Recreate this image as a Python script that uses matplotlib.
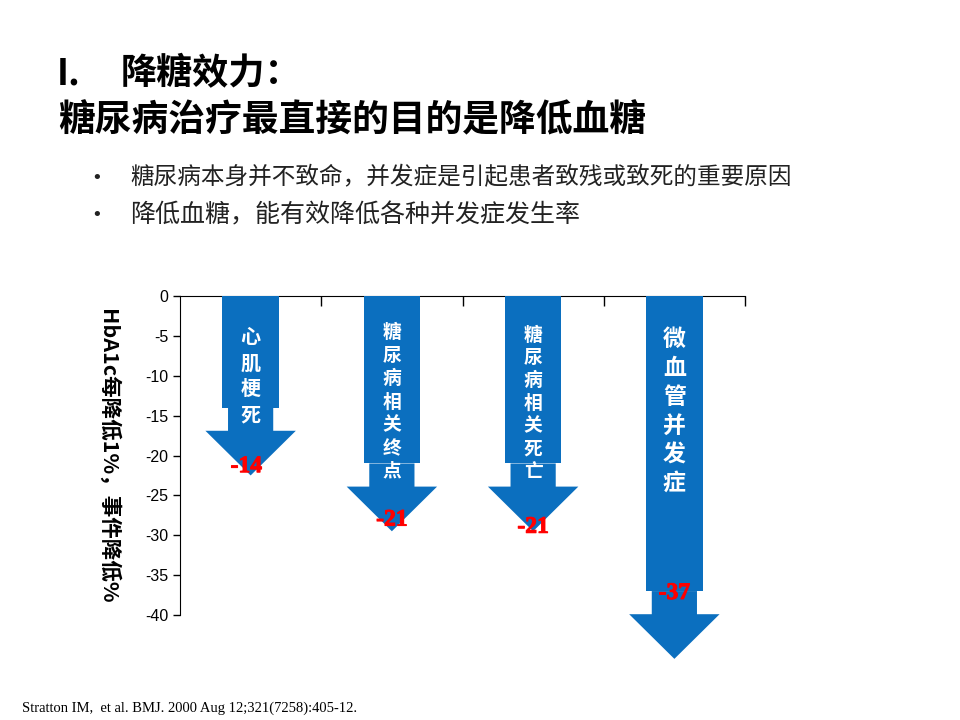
import numpy as np
import matplotlib
matplotlib.use("Agg")
import matplotlib.pyplot as plt
import matplotlib.patheffects as pe
from matplotlib.patches import Polygon
from matplotlib.font_manager import FontProperties

plt.rcParams['font.family'] = ['Noto Sans CJK SC', 'DejaVu Sans']

# data
categories = ["心肌梗死", "糖尿病相关终点", "糖尿病相关死亡", "微血管并发症"]
values = [-14, -21, -21, -37]
yticks = [0, -5, -10, -15, -20, -25, -30, -35, -40]

title1 = "I."
title1b = "降糖效力："
title2 = "糖尿病治疗最直接的目的是降低血糖"
bullets = ["糖尿病本身并不致命，并发症是引起患者致残或致死的重要原因",
           "降低血糖，能有效降低各种并发症发生率"]
ylabel = "HbA1c每降低1%，事件降低%"
source = "Stratton IM,  et al. BMJ. 2000 Aug 12;321(7258):405-12."

# arrow geometry / style
blue = "#0B6FBF"
shaft_w = 0.40
neck_hw = 0.16
head_hw = 0.32
neck_len = 2.9
head_len = 5.6
char_size = [14.5, 13.5, 13.5, 16.5]
char_step = [3.26, 2.9, 2.85, 3.6]
char_first = [-5.1, -4.6, -4.9, -5.5]
lab_dy = [-7.4, -7.1, -8.0, -0.3]
lab_dx = [-0.03, 0.0, 0.0, 0.0]

serif_bold = FontProperties(family='Liberation Serif', weight='bold', size=17)
thick = [pe.withStroke(linewidth=0.7, foreground='#FF0000')]

fig = plt.figure(figsize=(9.6, 7.2), dpi=100)

fig.text(57/960, 1-74/720, title1, fontsize=26, fontweight='bold', va='center', ha='left')
fig.text(121/960, 1-74/720, title1b, fontsize=26, fontweight='bold', va='center', ha='left')
fig.text(58/960, 1-121/720, title2, fontsize=26.5, fontweight='bold', va='center', ha='left')
for i, b in enumerate(bullets):
    yy = 1 - (178 + 37*i)/720
    fig.text(97/960, yy, "•", fontsize=13, family=['DejaVu Sans'], va='center', ha='center',
             color="#222222")
    fig.text(130/960, yy, b, fontsize=[17, 18][i], va='center', ha='left', color="#222222")
fig.text(22/960, 1-708/720, source, fontsize=10.5, family=['Liberation Serif'], va='center', ha='left')
fig.text(108/960, 1-456/720, ylabel, fontsize=15.5, fontweight='bold', rotation=270,
         va='center', ha='center')

ax = fig.add_axes([180/960, 1-615/720, 565/960, 319/720])
x = np.arange(len(categories))
ax.bar(x, values, width=shaft_w, bottom=0, color=blue, zorder=3, clip_on=False)
for xi, v in zip(x, values):
    pts = [(xi-neck_hw, v), (xi+neck_hw, v), (xi+neck_hw, v-neck_len),
           (xi+head_hw, v-neck_len), (xi, v-neck_len-head_len),
           (xi-head_hw, v-neck_len), (xi-neck_hw, v-neck_len)]
    ax.add_patch(Polygon(pts, closed=True, color=blue, lw=0, zorder=3, clip_on=False))

for i, (xi, v, name) in enumerate(zip(x, values, categories)):
    for j, ch in enumerate(name):
        ax.text(xi, char_first[i] - j*char_step[i], ch, color='white', fontsize=char_size[i],
                fontweight='bold', ha='center', va='center', zorder=5)
    ax.text(xi + lab_dx[i], v + lab_dy[i], str(v), color='#FF0000', fontproperties=serif_bold,
            ha='center', va='center', zorder=6, clip_on=False, path_effects=thick)

ax.set_xlim(-0.5, len(categories)-0.5)
ax.set_ylim(-40, 0)
ax.set_yticks(yticks)
ax.set_yticklabels([str(t) for t in yticks], family=['Liberation Sans'], fontsize=11.5)
ax.xaxis.tick_top()
ax.set_xticks(np.arange(len(categories)) + 0.5)
ax.set_xticklabels([])
ax.tick_params(axis='x', direction='in', length=7, width=1)
ax.tick_params(axis='y', direction='out', length=5, width=1)
ax.spines['right'].set_visible(False)
ax.spines['bottom'].set_visible(False)

plt.savefig("out.png", dpi=100)
